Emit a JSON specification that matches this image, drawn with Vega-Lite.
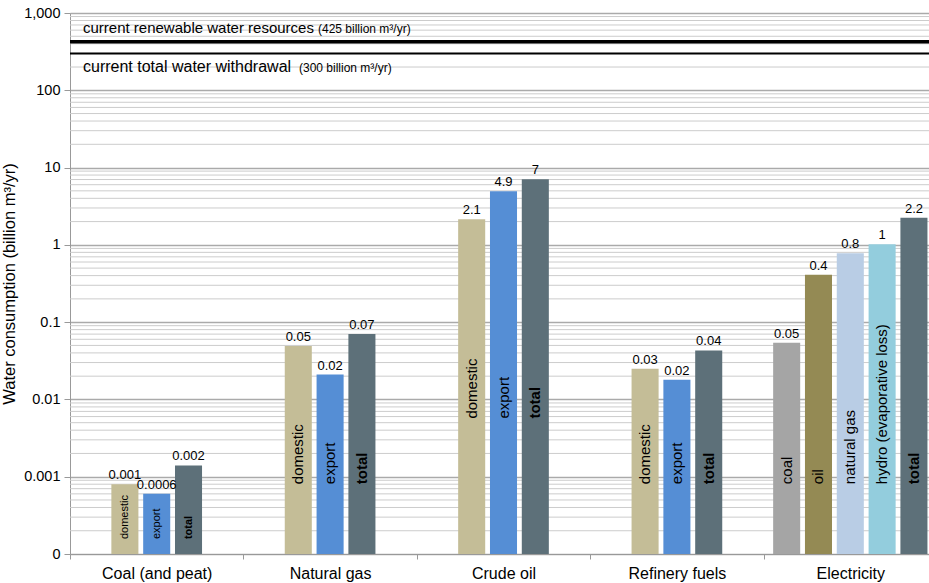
{
  "$schema": "https://vega.github.io/schema/vega-lite/v6.json",
  "width": 859,
  "height": 541,
  "autosize": {"type": "none"},
  "padding": {"left": 70, "top": 13, "right": 0, "bottom": 29},
  "background": "white",
  "config": {
    "font": "Liberation Sans",
    "view": {"stroke": null},
    "axis": {"labelColor": "#000", "titleColor": "#000"}
  },
  "datasets": {
    "bars": [
      {"category": "Coal (and peat)", "series": "domestic", "slot": 2, "value": 0.0008, "label": "0.001"},
      {"category": "Coal (and peat)", "series": "export", "slot": 3, "value": 0.0006, "label": "0.0006"},
      {"category": "Coal (and peat)", "series": "total", "slot": 4, "value": 0.0014, "label": "0.002"},
      {"category": "Natural gas", "series": "domestic", "slot": 2, "value": 0.049, "label": "0.05"},
      {"category": "Natural gas", "series": "export", "slot": 3, "value": 0.021, "label": "0.02"},
      {"category": "Natural gas", "series": "total", "slot": 4, "value": 0.07, "label": "0.07"},
      {"category": "Crude oil", "series": "domestic", "slot": 2, "value": 2.14, "label": "2.1"},
      {"category": "Crude oil", "series": "export", "slot": 3, "value": 4.95, "label": "4.9"},
      {"category": "Crude oil", "series": "total", "slot": 4, "value": 7.05, "label": "7"},
      {"category": "Refinery fuels", "series": "domestic", "slot": 2, "value": 0.025, "label": "0.03"},
      {"category": "Refinery fuels", "series": "export", "slot": 3, "value": 0.018, "label": "0.02"},
      {"category": "Refinery fuels", "series": "total", "slot": 4, "value": 0.043, "label": "0.04"},
      {"category": "Electricity", "series": "coal", "slot": 1, "value": 0.054, "label": "0.05"},
      {"category": "Electricity", "series": "oil", "slot": 2, "value": 0.41, "label": "0.4"},
      {"category": "Electricity", "series": "natural gas", "slot": 3, "value": 0.78, "label": "0.8"},
      {"category": "Electricity", "series": "hydro (evaporative loss)", "slot": 4, "value": 1.02, "label": "1"},
      {"category": "Electricity", "series": "total", "slot": 5, "value": 2.25, "label": "2.2"}
    ],
    "grid": [
      {"value": 0.0002}, {"value": 0.0003}, {"value": 0.0004}, {"value": 0.0005}, {"value": 0.0006}, {"value": 0.0007}, {"value": 0.0008}, {"value": 0.0009},
      {"value": 0.002}, {"value": 0.003}, {"value": 0.004}, {"value": 0.005}, {"value": 0.006}, {"value": 0.007}, {"value": 0.008}, {"value": 0.009},
      {"value": 0.02}, {"value": 0.03}, {"value": 0.04}, {"value": 0.05}, {"value": 0.06}, {"value": 0.07}, {"value": 0.08}, {"value": 0.09},
      {"value": 0.2}, {"value": 0.3}, {"value": 0.4}, {"value": 0.5}, {"value": 0.6}, {"value": 0.7}, {"value": 0.8}, {"value": 0.9},
      {"value": 2}, {"value": 3}, {"value": 4}, {"value": 5}, {"value": 6}, {"value": 7}, {"value": 8}, {"value": 9},
      {"value": 20}, {"value": 30}, {"value": 40}, {"value": 50}, {"value": 60}, {"value": 70}, {"value": 80}, {"value": 90},
      {"value": 200}, {"value": 300}, {"value": 400}, {"value": 500}, {"value": 600}, {"value": 700}, {"value": 800}, {"value": 900}
    ]
  },
  "layer": [
    {
      "data": {"name": "grid"},
      "mark": {"type": "rule", "color": "#cccccc", "strokeWidth": 1},
      "encoding": {
        "y": {
          "field": "value", "type": "quantitative",
          "scale": {"type": "log", "domain": [0.0001, 1000]},
          "title": "Water consumption (billion m³/yr)",
          "axis": {
            "values": [0.0001, 0.001, 0.01, 0.1, 1, 10, 100, 1000],
            "labelExpr": "datum.value < 0.0005 ? '0' : format(datum.value, ',')",
            "labelFontSize": 14.5, "labelPadding": 4,
            "tickSize": 6, "tickColor": "#999", "domainColor": "#999",
            "grid": true, "gridColor": "#aaaaaa", "gridWidth": 1.5,
            "title": "Water consumption (billion m³/yr)", "titleFontSize": 16.5, "titleFontWeight": "normal", "titlePadding": 6
          }
        }
      }
    },
    {
      "data": {"name": "bars"},
      "mark": {"type": "bar"},
      "encoding": {
        "x": {
          "field": "category", "type": "nominal",
          "sort": ["Coal (and peat)", "Natural gas", "Crude oil", "Refinery fuels", "Electricity"],
          "scale": {"range": [0, 867], "paddingInner": 0, "paddingOuter": 0},
          "axis": {"title": null, "labelFontSize": 16, "labelPadding": 6, "tickBand": "extent", "tickSize": 5, "tickColor": "#999", "domainColor": "#999", "grid": false, "labelAngle": 0}
        },
        "xOffset": {"field": "slot", "type": "ordinal", "scale": {"domain": [1, 2, 3, 4, 5], "paddingInner": 0.15, "paddingOuter": 0.3}},
        "y": {"field": "value", "type": "quantitative", "title": "Water consumption (billion m³/yr)"},
        "y2": {"datum": 0.0001},
        "color": {
          "field": "series", "type": "nominal", "legend": null,
          "scale": {
            "domain": ["domestic", "export", "total", "coal", "oil", "natural gas", "hydro (evaporative loss)"],
            "range": ["#c4bd97", "#558ed5", "#5d7079", "#a5a5a5", "#948a54", "#b9cde5", "#93cddd"]
          }
        }
      }
    },
    {
      "data": {"name": "bars"},
      "mark": {"type": "text", "baseline": "bottom", "dy": -2, "fontSize": 13, "color": "#000"},
      "encoding": {
        "x": {"field": "category", "type": "nominal", "sort": ["Coal (and peat)", "Natural gas", "Crude oil", "Refinery fuels", "Electricity"]},
        "xOffset": {"field": "slot", "type": "ordinal"},
        "y": {"field": "value", "type": "quantitative", "title": "Water consumption (billion m³/yr)"},
        "text": {"field": "label"}
      }
    },
    {
      "data": {"name": "bars"},
      "transform": [{"filter": "(datum.category === 'Natural gas' || datum.category === 'Refinery fuels' || datum.category === 'Electricity') && datum.series !== 'total'"}],
      "mark": {"type": "text", "angle": 270, "align": "left", "baseline": "middle", "fontSize": 15, "color": "#000"},
      "encoding": {
        "x": {"field": "category", "type": "nominal", "sort": ["Coal (and peat)", "Natural gas", "Crude oil", "Refinery fuels", "Electricity"]},
        "xOffset": {"field": "slot", "type": "ordinal"},
        "y": {"datum": 0.0008, "type": "quantitative", "title": "Water consumption (billion m³/yr)"},
        "text": {"field": "series"}
      }
    },
    {
      "data": {"name": "bars"},
      "transform": [{"filter": "(datum.category === 'Natural gas' || datum.category === 'Refinery fuels' || datum.category === 'Electricity') && datum.series === 'total'"}],
      "mark": {"type": "text", "angle": 270, "align": "left", "baseline": "middle", "fontSize": 15, "fontWeight": "bold", "color": "#000"},
      "encoding": {
        "x": {"field": "category", "type": "nominal", "sort": ["Coal (and peat)", "Natural gas", "Crude oil", "Refinery fuels", "Electricity"]},
        "xOffset": {"field": "slot", "type": "ordinal"},
        "y": {"datum": 0.0008, "type": "quantitative", "title": "Water consumption (billion m³/yr)"},
        "text": {"field": "series"}
      }
    },
    {
      "data": {"name": "bars"},
      "transform": [{"filter": "datum.category === 'Crude oil' && datum.series !== 'total'"}],
      "mark": {"type": "text", "angle": 270, "align": "left", "baseline": "middle", "fontSize": 15, "color": "#000"},
      "encoding": {
        "x": {"field": "category", "type": "nominal", "sort": ["Coal (and peat)", "Natural gas", "Crude oil", "Refinery fuels", "Electricity"]},
        "xOffset": {"field": "slot", "type": "ordinal"},
        "y": {"datum": 0.00565, "type": "quantitative", "title": "Water consumption (billion m³/yr)"},
        "text": {"field": "series"}
      }
    },
    {
      "data": {"name": "bars"},
      "transform": [{"filter": "datum.category === 'Crude oil' && datum.series === 'total'"}],
      "mark": {"type": "text", "angle": 270, "align": "left", "baseline": "middle", "fontSize": 15, "fontWeight": "bold", "color": "#000"},
      "encoding": {
        "x": {"field": "category", "type": "nominal", "sort": ["Coal (and peat)", "Natural gas", "Crude oil", "Refinery fuels", "Electricity"]},
        "xOffset": {"field": "slot", "type": "ordinal"},
        "y": {"datum": 0.00565, "type": "quantitative", "title": "Water consumption (billion m³/yr)"},
        "text": {"field": "series"}
      }
    },
    {
      "data": {"name": "bars"},
      "transform": [{"filter": "datum.category === 'Coal (and peat)' && datum.series !== 'total'"}],
      "mark": {"type": "text", "angle": 270, "align": "left", "baseline": "middle", "fontSize": 11, "color": "#000"},
      "encoding": {
        "x": {"field": "category", "type": "nominal", "sort": ["Coal (and peat)", "Natural gas", "Crude oil", "Refinery fuels", "Electricity"]},
        "xOffset": {"field": "slot", "type": "ordinal"},
        "y": {"datum": 0.000156, "type": "quantitative", "title": "Water consumption (billion m³/yr)"},
        "text": {"field": "series"}
      }
    },
    {
      "data": {"name": "bars"},
      "transform": [{"filter": "datum.category === 'Coal (and peat)' && datum.series === 'total'"}],
      "mark": {"type": "text", "angle": 270, "align": "left", "baseline": "middle", "fontSize": 11, "fontWeight": "bold", "color": "#000"},
      "encoding": {
        "x": {"field": "category", "type": "nominal", "sort": ["Coal (and peat)", "Natural gas", "Crude oil", "Refinery fuels", "Electricity"]},
        "xOffset": {"field": "slot", "type": "ordinal"},
        "y": {"datum": 0.000156, "type": "quantitative", "title": "Water consumption (billion m³/yr)"},
        "text": {"field": "series"}
      }
    },
    {
      "data": {"values": [{"value": 425}]},
      "mark": {"type": "rule", "color": "#000", "strokeWidth": 3.5},
      "encoding": {"y": {"field": "value", "type": "quantitative", "title": "Water consumption (billion m³/yr)"}}
    },
    {
      "data": {"values": [{"value": 300}]},
      "mark": {"type": "rule", "color": "#000", "strokeWidth": 2},
      "encoding": {"y": {"field": "value", "type": "quantitative", "title": "Water consumption (billion m³/yr)"}}
    },
    {
      "data": {"values": [{"main": "current renewable water resources", "pos": 640}]},
      "mark": {"type": "text", "align": "left", "baseline": "middle", "fontSize": 15, "dx": 13, "color": "#000"},
      "encoding": {
        "x": {"datum": "Coal (and peat)", "type": "nominal", "bandPosition": 0},
        "y": {"field": "pos", "type": "quantitative", "title": "Water consumption (billion m³/yr)"},
        "text": {"field": "main"}
      }
    },
    {
      "data": {"values": [{"main": "current total water withdrawal", "pos": 200}]},
      "mark": {"type": "text", "align": "left", "baseline": "middle", "fontSize": 16, "dx": 13, "color": "#000"},
      "encoding": {
        "x": {"datum": "Coal (and peat)", "type": "nominal", "bandPosition": 0},
        "y": {"field": "pos", "type": "quantitative", "title": "Water consumption (billion m³/yr)"},
        "text": {"field": "main"}
      }
    },
    {
      "data": {"values": [{"note": "(425 billion m³/yr)", "pos": 640}]},
      "mark": {"type": "text", "align": "left", "baseline": "middle", "fontSize": 12, "dx": 248, "dy": 1, "color": "#000"},
      "encoding": {
        "x": {"datum": "Coal (and peat)", "type": "nominal", "bandPosition": 0},
        "y": {"field": "pos", "type": "quantitative", "title": "Water consumption (billion m³/yr)"},
        "text": {"field": "note"}
      }
    },
    {
      "data": {"values": [{"note": "(300 billion m³/yr)", "pos": 200}]},
      "mark": {"type": "text", "align": "left", "baseline": "middle", "fontSize": 12, "dx": 229, "dy": 1, "color": "#000"},
      "encoding": {
        "x": {"datum": "Coal (and peat)", "type": "nominal", "bandPosition": 0},
        "y": {"field": "pos", "type": "quantitative", "title": "Water consumption (billion m³/yr)"},
        "text": {"field": "note"}
      }
    }
  ]
}
